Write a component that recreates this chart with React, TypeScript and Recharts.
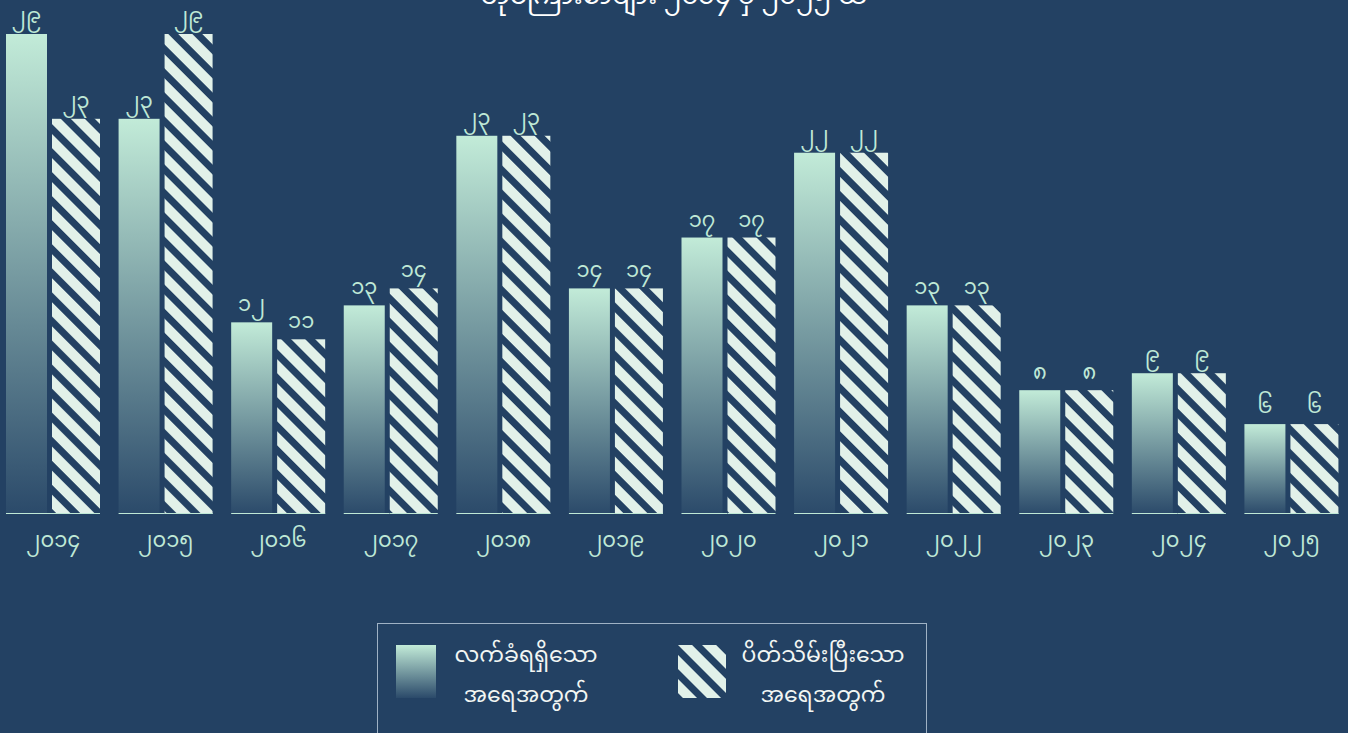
import React from 'react';
import { BarChart, Bar, XAxis, YAxis, LabelList } from 'recharts';

const years = ['၂၀၁၄', '၂၀၁၅', '၂၀၁၆', '၂၀၁၇', '၂၀၁၈', '၂၀၁၉', '၂၀၂၀', '၂၀၂၁', '၂၀၂၂', '၂၀၂၃', '၂၀၂၄', '၂၀၂၅'];
const received = [29, 24, 12, 13, 23, 14, 17, 22, 13, 8, 9, 6];
const closed = [24, 29, 11, 14, 23, 14, 17, 22, 13, 8, 9, 6];
const receivedLabels = ['၂၉', '၂၃', '၁၂', '၁၃', '၂၃', '၁၄', '၁၇', '၂၂', '၁၃', '၈', '၉', '၆'];
const closedLabels = ['၂၃', '၂၉', '၁၁', '၁၄', '၂၃', '၁၄', '၁၇', '၂၂', '၁၃', '၈', '၉', '၆'];

const seriesNames = [
  ['လက်ခံရရှိသော', 'အရေအတွက်'],
  ['ပိတ်သိမ်းပြီးသော', 'အရေအတွက်'],
];
const title = 'တိုင်ကြားစာများ ၂၀၁၄ မှ ၂၀၂၅ ထိ';

const BG = '#234163';
const MINT = '#bfe8d6';
const STRIPE = '#e2f1e9';
const FONT = "'Noto Sans Myanmar', 'Noto Sans', 'DejaVu Sans', sans-serif";

const data = years.map((year, i) => ({
  year,
  received: received[i],
  closed: closed[i],
  receivedLabel: receivedLabels[i],
  closedLabel: closedLabels[i],
}));

const SolidBar = (props: any) => {
  const { x, y, width, height } = props;
  return (
    <g>
      <rect x={x} y={y} width={width} height={height} fill="url(#gradRecv)" />
      <rect x={x} y={y + height - 1} width={width + 5} height={3} fill={MINT} />
    </g>
  );
};

const HatchBar = (props: any) => {
  const { x, y, width, height } = props;
  return (
    <g>
      <rect x={x} y={y} width={width} height={height} fill="url(#hatch)" />
      <rect x={x} y={y + height - 1} width={width} height={3} fill={MINT} />
    </g>
  );
};

const Defs = () => (
  <defs>
    <linearGradient id="gradRecv" x1="0" y1="0" x2="0" y2="1">
      <stop offset="0%" stopColor="#c2ebd8" />
      <stop offset="100%" stopColor="#2b4a6a" />
    </linearGradient>
    <pattern id="hatch" patternUnits="userSpaceOnUse" width="17" height="17" patternTransform="rotate(-45)">
      <rect x="0" y="0" width="17" height="17" fill={BG} />
      <rect x="0" y="0" width="10" height="17" fill={STRIPE} />
    </pattern>
  </defs>
);

const legendText = {
  color: '#f2f6f3',
  fontSize: 22,
  lineHeight: '40px',
  textAlign: 'center' as const,
  fontFamily: FONT,
};

export default function App() {
  return (
    <div style={{ position: 'absolute', left: 0, top: 0, width: 1348, height: 733, background: BG, overflow: 'hidden' }}>
      <div style={{
        position: 'absolute', left: 0, width: 1348, top: -30, textAlign: 'center',
        color: '#ffffff', fontSize: 26, fontFamily: FONT, whiteSpace: 'nowrap',
      }}>
        {title}
      </div>
      <BarChart
        width={1348}
        height={733}
        data={data}
        margin={{ top: 34, right: 0, left: -3, bottom: 179 }}
        barGap={5}
        style={{ position: 'absolute', left: 0, top: 0 }}
      >
        <Defs />
        <YAxis hide domain={[0.7, 29]} allowDataOverflow />
        <XAxis
          dataKey="year"
          height={40}
          axisLine={false}
          tickLine={false}
          tickSize={0}
          tickMargin={18}
          tick={{ fill: MINT, fontSize: 21, fontFamily: FONT }}
          interval={0}
        />
        <Bar dataKey="received" barSize={41} shape={SolidBar} isAnimationActive={false}>
          <LabelList dataKey="receivedLabel" position="top" offset={11} fill={MINT} fontSize={21} fontFamily={FONT} />
        </Bar>
        <Bar dataKey="closed" barSize={48} shape={HatchBar} isAnimationActive={false}>
          <LabelList dataKey="closedLabel" position="top" offset={11} fill={MINT} fontSize={21} fontFamily={FONT} />
        </Bar>
      </BarChart>

      <div style={{
        position: 'absolute', left: 377, top: 623, width: 548, height: 130,
        border: '1px solid #9fb2c5',
      }}>
        <svg width={48} height={53} style={{ position: 'absolute', left: 18, top: 21 }}>
          <Defs />
          <rect x={0} y={0} width={40} height={53} fill="url(#gradRecv)" />
        </svg>
        <div style={{ ...legendText, position: 'absolute', left: 70, width: 156, top: 13 }}>
          <div>{seriesNames[0][0]}</div>
          <div>{seriesNames[0][1]}</div>
        </div>
        <svg width={48} height={53} style={{ position: 'absolute', left: 300, top: 21 }}>
          <rect x={0} y={0} width={48} height={53} fill="url(#hatch)" />
        </svg>
        <div style={{ ...legendText, position: 'absolute', left: 355, width: 180, top: 13 }}>
          <div>{seriesNames[1][0]}</div>
          <div>{seriesNames[1][1]}</div>
        </div>
      </div>
    </div>
  );
}
